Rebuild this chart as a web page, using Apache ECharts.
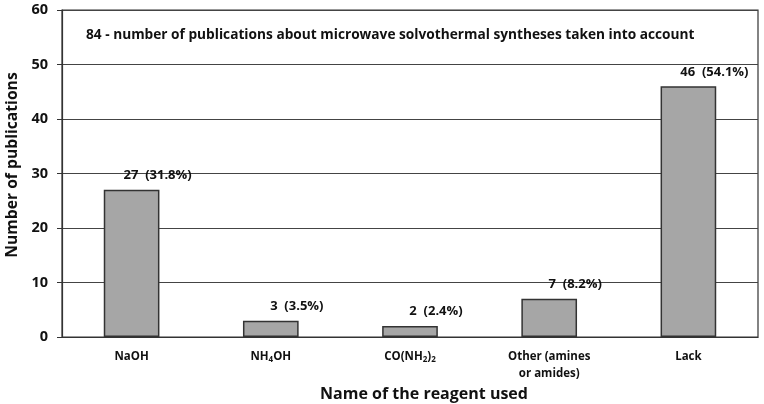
<!DOCTYPE html>
<html><head><meta charset="utf-8">
<script src="https://cdn.jsdelivr.net/npm/echarts@6/dist/echarts.min.js"></script>
<style>html,body{margin:0;padding:0;background:#fff}#c{width:764px;height:404px}</style>
</head><body><div id="c"></div>
<script>
var categories = ['NaOH', 'NH4OH', 'CO(NH2)2', 'Other (amines\nor amides)', 'Lack'];
var categoryLabels = ['NaOH', '{a|NH}{s|4}{a|OH}', '{a|CO(NH}{s|2}{a|)}{s|2}', 'Other (amines\nor amides)', 'Lack'];
var values = [27, 3, 2, 7, 46];
var percents = ['31.8%', '3.5%', '2.4%', '8.2%', '54.1%'];
var yTicks = [0, 10, 20, 30, 40, 50, 60];
var note = '84 - number of publications about microwave solvothermal syntheses taken into account';

var FONT = 'Open Sans';
var chart = echarts.init(document.getElementById('c'), null, {renderer: 'canvas'});
chart.setOption({
  animation: false,
  textStyle: {fontFamily: FONT},
  title: {
    text: note, left: 81, top: 23,
    textStyle: {fontFamily: FONT, fontWeight: 'bold', fontSize: 13.7, color: '#111'}
  },
  grid: {left: 62, right: 6, top: 10, bottom: 67, show: true, borderColor: '#333', borderWidth: 1.2,
    containLabel: false, outerBoundsMode: 'none'},
  xAxis: {
    type: 'category', data: categories,
    axisLine: {lineStyle: {color: '#333', width: 1.2}},
    axisTick: {show: false},
    axisLabel: {
      interval: 0, margin: 11, color: '#111', fontFamily: FONT, fontWeight: 'bold', fontSize: 11.5, lineHeight: 17,
      formatter: function (v, i) { return categoryLabels[i]; },
      rich: {
        a: {fontFamily: FONT, fontWeight: 'bold', fontSize: 11.5, color: '#111'},
        s: {fontFamily: FONT, fontWeight: 'bold', fontSize: 8, color: '#111', padding: [6, 0, 0, 0]}
      }
    },
    name: 'Name of the reagent used', nameLocation: 'middle', nameGap: 42,
    nameTextStyle: {fontFamily: FONT, fontWeight: 'bold', fontSize: 16, color: '#111', padding: [0, 0, 0, 28]}
  },
  yAxis: {
    type: 'value', min: 0, max: 60, interval: 10,
    axisLine: {show: true, lineStyle: {color: '#333', width: 1.2}},
    axisTick: {show: true, length: 5, lineStyle: {color: '#333'}},
    axisLabel: {margin: 14, color: '#111', fontFamily: FONT, fontWeight: 'bold', fontSize: 14.5,
      formatter: function (v) { return yTicks.indexOf(v) >= 0 ? String(v) : ''; }},
    splitLine: {lineStyle: {color: '#444', width: 1}},
    name: 'Number of publications', nameLocation: 'middle', nameGap: 37,
    nameTextStyle: {fontFamily: FONT, fontWeight: 'bold', fontSize: 15.7, color: '#111', padding: [0, 0, 0, 17]}
  },
  series: [{
    type: 'bar', data: values, barWidth: '40%',
    itemStyle: {color: '#a6a6a6', borderColor: '#333', borderWidth: 1.5},
    label: {
      show: true, position: 'top', distance: 8, offset: [26, 0],
      fontFamily: FONT, fontWeight: 'bold', fontSize: 13, color: '#111',
      formatter: function (p) { return p.value + '  (' + percents[p.dataIndex] + ')'; }
    }
  }]
});
</script></body></html>
